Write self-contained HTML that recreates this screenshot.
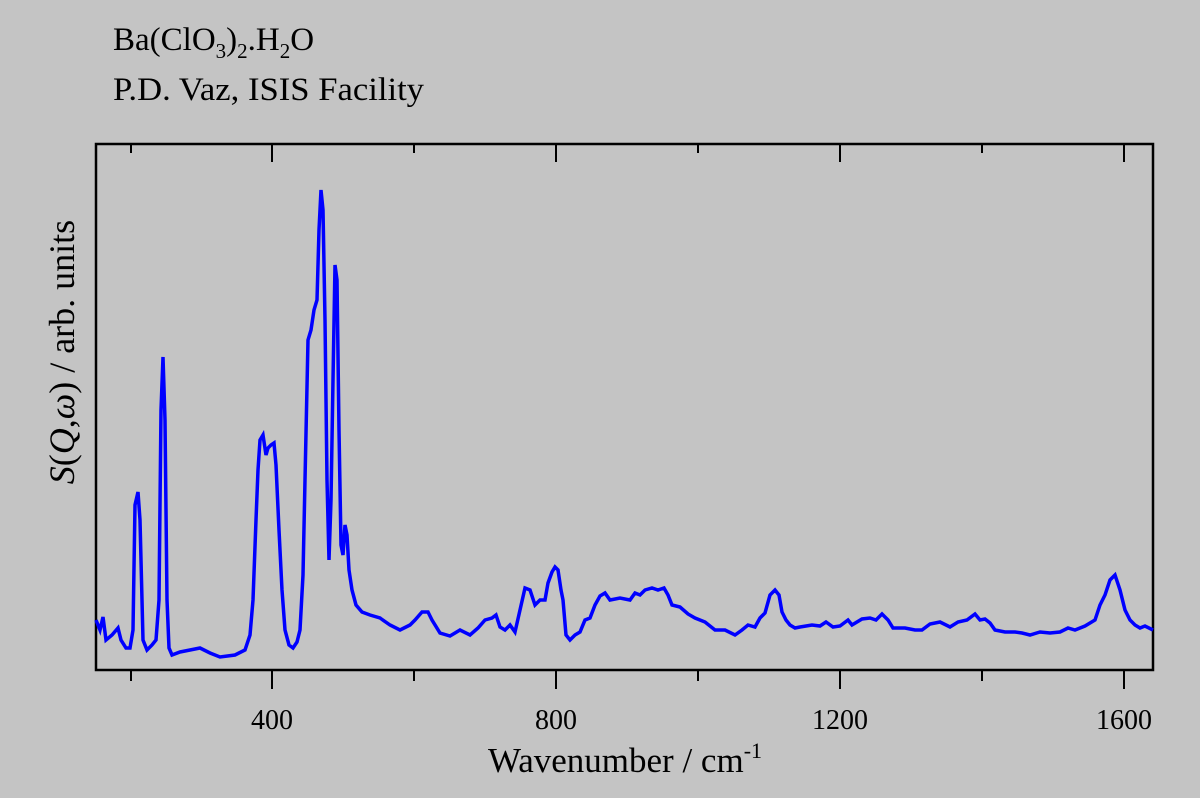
<!DOCTYPE html>
<html><head><meta charset="utf-8"><style>
body{margin:0;background:#c4c4c4;}
svg{display:block;font-family:"Liberation Serif",serif;}
</style></head><body>
<svg width="1200" height="798" viewBox="0 0 1200 798" xmlns="http://www.w3.org/2000/svg">
<rect width="1200" height="798" fill="#c4c4c4"/>
<text x="113" y="50" font-size="33">Ba(ClO<tspan font-size="21" dy="8">3</tspan><tspan dy="-8">)</tspan><tspan font-size="21" dy="8">2</tspan><tspan dy="-8">.H</tspan><tspan font-size="21" dy="8">2</tspan><tspan dy="-8">O</tspan></text>
<text x="113" y="100" font-size="33" textLength="311" lengthAdjust="spacingAndGlyphs">P.D. Vaz, ISIS Facility</text>
<rect x="96" y="144" width="1057" height="526" fill="none" stroke="#000" stroke-width="2.5"/>
<g stroke="#000" stroke-width="2">
<line x1="131" y1="670" x2="131" y2="681"/><line x1="272" y1="670" x2="272" y2="689"/>
<line x1="414" y1="670" x2="414" y2="681"/><line x1="556" y1="670" x2="556" y2="689"/>
<line x1="698" y1="670" x2="698" y2="681"/><line x1="840" y1="670" x2="840" y2="689"/>
<line x1="982" y1="670" x2="982" y2="681"/><line x1="1124" y1="670" x2="1124" y2="689"/>
<line x1="131" y1="144" x2="131" y2="153"/><line x1="272" y1="144" x2="272" y2="162"/>
<line x1="414" y1="144" x2="414" y2="153"/><line x1="556" y1="144" x2="556" y2="162"/>
<line x1="698" y1="144" x2="698" y2="153"/><line x1="840" y1="144" x2="840" y2="162"/>
<line x1="982" y1="144" x2="982" y2="153"/><line x1="1124" y1="144" x2="1124" y2="162"/>
</g>
<g font-size="28" text-anchor="middle">
<text x="272" y="729">400</text><text x="556" y="729">800</text>
<text x="840" y="729">1200</text><text x="1124" y="729">1600</text>
</g>
<text x="625" y="772" font-size="35" text-anchor="middle">Wavenumber / cm<tspan font-size="22" dy="-14">-1</tspan></text>
<text transform="translate(74,352) rotate(-90)" font-size="36" text-anchor="middle"><tspan font-style="italic">S</tspan>(<tspan font-style="italic">Q</tspan>,<tspan font-style="italic">ω</tspan>) / arb. units</text>
<polyline fill="none" stroke="#0000ff" stroke-width="3.5" stroke-linejoin="miter" points="96,620 100,630 103,617 106,640 112,635 118,628 121,640 126,648 130,648 133,630 135,505 138,492 140,520 143,640 147,650 152,645 156,640 159,600 161,410 163,357 165,420 167,600 169,648 172,655 180,652 190,650 200,648 210,653 220,657 235,655 245,650 250,635 253,600 256,520 258,470 260,440 263,435 266,455 268,448 271,445 274,443 276,465 279,530 282,590 285,630 289,645 293,648 297,642 300,630 303,575 305,480 308,340 311,330 314,310 317,300 319,230 321,190 323,210 325,320 327,480 329,560 331,500 333,380 335,265 337,280 339,430 341,545 343,555 345,525 347,535 349,570 352,590 356,605 362,612 370,615 380,618 390,625 400,630 410,625 415,620 422,612 428,612 432,620 440,633 450,636 460,630 470,635 478,628 485,620 492,618 496,615 500,627 505,630 510,625 515,632 520,610 525,588 530,590 535,605 540,600 545,600 548,583 552,572 555,567 558,570 561,590 563,600 566,635 570,640 575,635 580,632 585,620 590,618 595,605 600,596 605,593 610,600 620,598 630,600 635,593 640,595 645,590 652,588 658,590 664,588 668,595 672,605 680,607 688,614 695,618 705,622 715,630 725,630 735,635 742,630 748,625 755,627 760,618 765,613 770,595 775,590 779,595 782,612 786,620 790,625 795,628 800,627 812,625 820,626 826,622 833,627 840,626 848,620 852,625 862,619 870,618 876,620 882,614 888,620 893,628 905,628 915,630 922,630 930,624 940,622 950,627 958,622 967,620 975,614 980,620 985,619 990,623 995,630 1005,632 1015,632 1022,633 1030,635 1040,632 1050,633 1060,632 1068,628 1075,630 1085,626 1095,620 1100,605 1105,595 1110,580 1115,575 1120,590 1125,610 1130,620 1135,625 1140,628 1145,626 1153,630"/>
</svg>
</body></html>
